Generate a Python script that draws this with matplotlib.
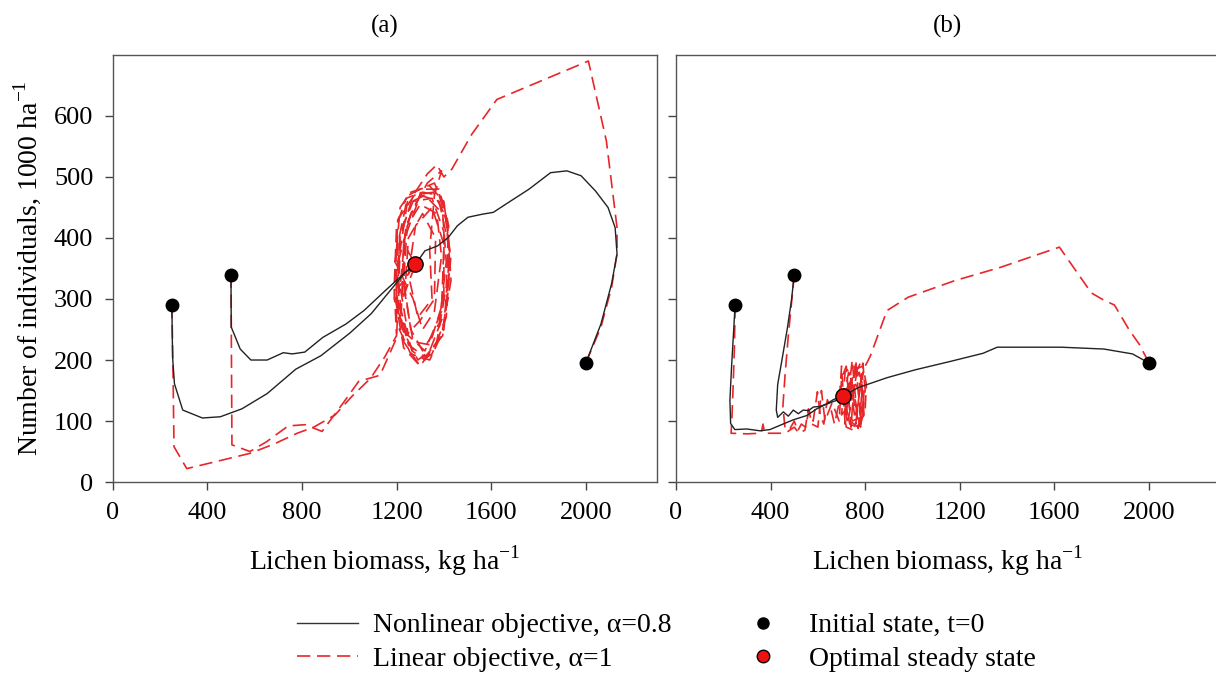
import matplotlib
matplotlib.use("Agg")
import matplotlib.pyplot as plt
from matplotlib.lines import Line2D

plt.rcParams['font.family'] = ['Liberation Serif', 'DejaVu Serif']
plt.rcParams['mathtext.fontset'] = 'custom'
plt.rcParams['mathtext.rm'] = 'Liberation Serif'

# start points and steady states
init_x = [250, 500, 2000]
init_y = [290, 340, 195]
opt_a = (1280, 357)
opt_b = (705, 141)

# panel (a), nonlinear objective (black)
a_nl1_x = [250, 253, 261, 296, 379, 455, 546, 653, 774, 880, 1002, 1093, 1184, 1237, 1280]
a_nl1_y = [290, 205, 161, 118, 105, 107, 120, 145, 185, 207, 244, 276, 319, 344, 357]
a_nl2_x = [500, 501, 539, 584, 653, 721, 759, 812, 888, 986, 1062, 1153, 1229, 1280]
a_nl2_y = [340, 254, 218, 200, 200, 212, 210, 213, 237, 259, 281, 314, 341, 357]
a_nl3_x = [2000, 2064, 2109, 2132, 2124, 2094, 2041, 1980, 1920, 1851, 1760, 1684, 1609,
           1563, 1502, 1457, 1419, 1373, 1320, 1280]
a_nl3_y = [195, 259, 325, 374, 417, 450, 477, 502, 510, 507, 480, 461, 442,
           439, 434, 420, 401, 387, 379, 357]

# panel (a), linear objective (red dashed)
a_li1_x = [250, 255, 259, 313, 420, 580, 680, 780, 850, 940, 1010, 1090, 1150, 1200,
           1190, 1200, 1240, 1310, 1380, 1415, 1420, 1395, 1320, 1250, 1210, 1205, 1240,
           1320, 1395, 1410, 1380, 1310, 1260, 1230, 1245, 1300, 1370, 1390, 1360, 1310,
           1270, 1195, 1215, 1260, 1340, 1400, 1425, 1405, 1340, 1290, 1225, 1210, 1280]
a_li1_y = [290, 180, 58, 22, 32, 47, 62, 80, 90, 110, 140, 170, 205, 240,
           320, 420, 465, 475, 470, 420, 330, 240, 205, 225, 290, 390, 455,
           470, 440, 360, 260, 215, 250, 330, 420, 455, 440, 370, 280, 250,
           300, 360, 450, 475, 485, 460, 380, 280, 215, 200, 250, 320, 357]
a_li2_x = [500, 502, 504, 580, 650, 742, 813, 885, 975, 1040, 1130, 1200,
           1215, 1250, 1300, 1360, 1405, 1425, 1410, 1350, 1290, 1230, 1200, 1215, 1270,
           1350, 1400, 1400, 1340, 1270, 1235, 1250, 1310, 1365, 1360, 1300, 1240,
           1190, 1205, 1275, 1355, 1415, 1430, 1390, 1320, 1265, 1220, 1230, 1280]
a_li2_y = [340, 200, 61, 50, 66, 92, 94, 83, 130, 165, 175, 236,
           380, 470, 480, 490, 450, 360, 270, 210, 195, 230, 310, 410, 460,
           465, 410, 300, 225, 230, 310, 400, 440, 400, 300, 265, 240,
           300, 430, 470, 475, 430, 330, 240, 200, 215, 280, 390, 357]
a_li3_x = [2000, 2064, 2109, 2132, 2132, 2087, 2011, 1624, 1518, 1434,
           1400, 1370, 1330, 1270, 1215, 1195, 1230, 1300, 1370, 1410, 1420, 1380, 1310,
           1240, 1215, 1250, 1320, 1390, 1400, 1350, 1280, 1250, 1290, 1350, 1340,
           1360, 1390, 1330, 1260, 1200, 1200, 1260, 1340, 1400, 1430, 1380, 1300,
           1235, 1225, 1280]
a_li3_y = [195, 254, 319, 374, 417, 559, 690, 627, 570, 513,
           500, 520, 505, 470, 400, 300, 220, 190, 230, 320, 420, 480, 480,
           420, 320, 240, 215, 280, 390, 450, 420, 340, 270, 300, 380,
           470, 510, 490, 440, 350, 260, 210, 200, 250, 370, 460, 470,
           400, 300, 357]

# panel (b), nonlinear objective (black)
b_nl1_x = [250, 235, 228, 231, 249, 299, 355, 397, 440, 496, 553, 595, 637, 680, 705]
b_nl1_y = [290, 189, 134, 96, 86, 87, 84, 86, 93, 102, 109, 120, 128, 134, 141]
b_nl2_x = [500, 488, 470, 448, 430, 424, 430, 454, 475, 496, 517, 538, 560, 581,
           609, 637, 665, 705]
b_nl2_y = [340, 297, 250, 200, 160, 118, 106, 115, 108, 118, 112, 118, 117, 123,
           124, 128, 135, 141]
b_nl3_x = [2000, 1930, 1809, 1629, 1358, 1298, 1163, 1012, 892, 817, 772, 705]
b_nl3_y = [195, 210, 218, 221, 221, 211, 198, 184, 171, 161, 155, 141]

# panel (b), linear objective (red dashed)
b_li1_x = [250, 247, 241, 236, 233, 300, 360, 368, 375, 450, 470, 500, 520, 545, 560,
           575, 600, 615, 630, 660, 690, 700, 720, 740, 760, 780, 790, 760, 740, 720,
           700, 715, 750, 785, 795, 770, 735, 705]
b_li1_y = [290, 220, 150, 100, 80, 79, 80, 95, 80, 80, 82, 90, 80, 85, 120,
           95, 90, 150, 100, 130, 100, 170, 190, 90, 200, 100, 180, 110, 170, 120,
           110, 180, 190, 170, 110, 90, 100, 141]
b_li2_x = [500, 490, 475, 462, 452, 458, 461, 480, 500, 515, 530, 548, 562, 580, 598,
           610, 625, 640, 655, 670, 690, 700, 715, 745, 770, 800, 790, 760, 730, 710,
           725, 765, 795, 780, 740, 710]
b_li2_y = [340, 300, 240, 180, 124, 100, 88, 86, 100, 84, 95, 90, 118, 100, 148,
           110, 95, 135, 120, 95, 130, 190, 95, 200, 88, 150, 195, 95, 180, 141,
           95, 180, 130, 90, 170, 141]
b_li3_x = [2000, 1960, 1915, 1854, 1800, 1756, 1621, 1373, 1178, 982, 892, 821,
           800, 780, 760, 730, 710, 720, 750, 780, 800, 805, 790, 760, 735, 720, 735,
           765, 790, 795, 775, 745, 730, 745, 775, 785, 760, 720, 705]
b_li3_y = [195, 225, 250, 290, 300, 310, 385, 352, 330, 303, 281, 206,
           190, 195, 180, 150, 110, 90, 85, 95, 120, 160, 190, 185, 160, 120, 95,
           90, 110, 150, 180, 170, 130, 100, 105, 140, 160, 145, 141]

panels = [
    ("(a)", [(a_nl1_x, a_nl1_y), (a_nl2_x, a_nl2_y), (a_nl3_x, a_nl3_y)],
     [(a_li1_x, a_li1_y), (a_li2_x, a_li2_y), (a_li3_x, a_li3_y)], opt_a),
    ("(b)", [(b_nl1_x, b_nl1_y), (b_nl2_x, b_nl2_y), (b_nl3_x, b_nl3_y)],
     [(b_li1_x, b_li1_y), (b_li2_x, b_li2_y), (b_li3_x, b_li3_y)], opt_b),
]

red = '#e8262a'
dash = (0, (8, 4))

fig = plt.figure(figsize=(12.16, 6.78), dpi=100)
ax_a = fig.add_axes([0.0927, 0.289, 0.4474, 0.630])
ax_b = fig.add_axes([0.5559, 0.289, 0.4474, 0.630])

for ax, (title, nl, li, opt) in zip([ax_a, ax_b], panels):
    for x, y in li:
        ax.plot(x, y, color=red, lw=1.2, linestyle=dash, zorder=2)
    for x, y in nl:
        ax.plot(x, y, color='#222222', lw=1.0, zorder=3)
    ax.plot(init_x, init_y, 'o', color='black', ms=9, zorder=4)
    ax.plot(opt[0], opt[1], 'o', color='#ee1111', mec='black', mew=1.0, ms=11, zorder=5)

    ax.set_xlim(0, 2300)
    ax.set_ylim(0, 700)
    ax.set_xticks([0, 400, 800, 1200, 1600, 2000])
    ax.set_yticks([0, 100, 200, 300, 400, 500, 600])
    ax.tick_params(direction='out', length=6, width=1.0, color='#444444',
                   labelsize=19, pad=8)
    for s in ax.spines.values():
        s.set_color('#555555')
        s.set_linewidth(1.0)
    ax.set_title(title, fontsize=18, pad=16)
    ax.set_xlabel(r'Lichen biomass, kg ha$^{\mathrm{-1}}$', fontsize=20, labelpad=14)

ax_a.set_ylabel(r'Number of individuals, 1000 ha$^{\mathrm{-1}}$', fontsize=20, labelpad=8)
ax_b.set_yticklabels([])

handles = [
    Line2D([], [], color='#333333', lw=1.0),
    Line2D([], [], color=red, lw=1.2, linestyle=dash),
    Line2D([], [], marker='o', color='black', linestyle='none', ms=8),
    Line2D([], [], marker='o', color='#ee1111', mec='black', linestyle='none', ms=9),
]
labels = ['Nonlinear objective, α=0.8', 'Linear objective, α=1',
          'Initial state, t=0', 'Optimal steady state']
fig.legend(handles, labels, ncol=2, loc='center', bbox_to_anchor=(0.548, 0.0525),
           frameon=False, fontsize=20, handlelength=2.2, handletextpad=0.55,
           columnspacing=2.2, labelspacing=0.3)

plt.savefig('out.png', dpi=100)
